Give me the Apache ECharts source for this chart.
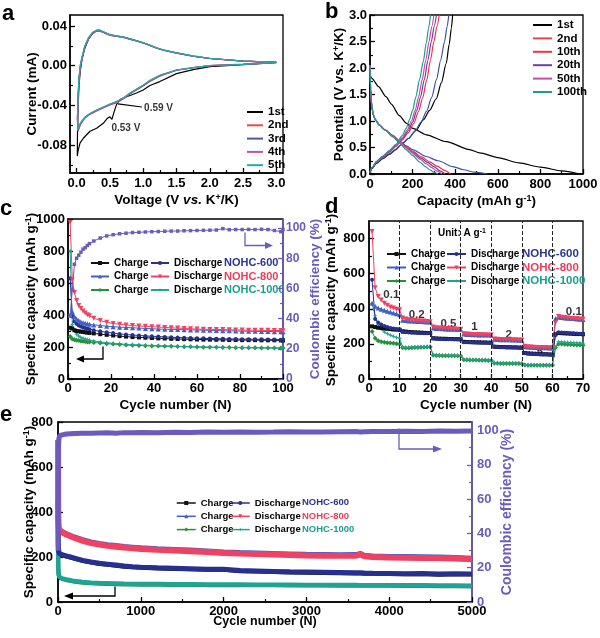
<!DOCTYPE html>
<html><head><meta charset="utf-8">
<script src="https://cdn.jsdelivr.net/npm/echarts@6/dist/echarts.min.js"></script>
<style>html,body{margin:0;padding:0;background:#fff}#c{width:600px;height:638px}</style>
</head><body><div id="c"></div><script>
// ---------- DATA ----------
// (a) CV curves: [voltage, current]
const cvLabels = ['1st','2nd','3rd','4th','5th'];
const cv1st = [[3.0,0.003],[2.75,0.002],[2.5,0.001],[2.25,0.0],[2.0,-0.001],[1.75,-0.004],[1.5,-0.008],[1.25,-0.016],[1.1,-0.02],[1.0,-0.0245],[0.9,-0.0275],[0.8,-0.030],[0.7,-0.0325],[0.65,-0.034],[0.6,-0.039],[0.56,-0.047],[0.53,-0.054],[0.5,-0.0515],[0.46,-0.053],[0.4,-0.058],[0.3,-0.063],[0.2,-0.066],[0.1,-0.073],[0.05,-0.078],[0.02,-0.086],[0.01,-0.091],
[0.012,-0.07],[0.02,-0.045],[0.035,-0.02],[0.055,-0.005],[0.08,0.006],[0.12,0.017],[0.18,0.027],[0.24,0.0325],[0.3,0.0352],[0.34,0.0355],[0.4,0.0338],[0.5,0.031],[0.6,0.0298],[0.7,0.0288],[0.8,0.027],[0.9,0.025],[1.0,0.023],[1.1,0.0205],[1.2,0.0178],[1.3,0.0158],[1.5,0.0128],[1.75,0.0095],[2.0,0.0072],[2.5,0.0045],[3.0,0.0033]];
const cv2nd = [[3.0,0.0033],[2.75,0.0025],[2.5,0.0015],[2.25,0.0008],[2.0,0.0],[1.75,-0.002],[1.5,-0.0045],[1.25,-0.0105],[1.1,-0.016],[1.0,-0.0205],[0.9,-0.0245],[0.8,-0.0285],[0.7,-0.0335],[0.6,-0.0375],[0.5,-0.0395],[0.4,-0.0425],[0.3,-0.0455],[0.2,-0.049],[0.12,-0.053],[0.06,-0.059],[0.02,-0.066],[0.01,-0.068],
[0.012,-0.055],[0.02,-0.035],[0.035,-0.015],[0.055,-0.002],[0.08,0.007],[0.12,0.018],[0.18,0.027],[0.24,0.0325],[0.3,0.0348],[0.34,0.035],[0.4,0.0335],[0.5,0.0305],[0.6,0.0295],[0.7,0.0285],[0.8,0.0265],[0.9,0.0248],[1.0,0.0228],[1.1,0.0202],[1.2,0.0175],[1.3,0.0155],[1.5,0.0125],[1.75,0.0095],[2.0,0.0072],[2.5,0.0046],[3.0,0.0035]];
const cv3rd = [[3.0,0.0032],[2.75,0.0024],[2.5,0.0014],[2.25,0.0007],[2.0,0.0],[1.75,-0.0021],[1.5,-0.0046],[1.25,-0.010],[1.1,-0.0155],[1.0,-0.020],[0.9,-0.024],[0.8,-0.028],[0.7,-0.033],[0.6,-0.0365],[0.5,-0.039],[0.4,-0.042],[0.3,-0.045],[0.2,-0.0485],[0.12,-0.0525],[0.06,-0.058],[0.02,-0.065],[0.01,-0.067],
[0.012,-0.054],[0.02,-0.034],[0.035,-0.014],[0.055,-0.001],[0.08,0.0075],[0.12,0.0185],[0.18,0.0275],[0.24,0.033],[0.3,0.0352],[0.34,0.0354],[0.4,0.0338],[0.5,0.0308],[0.6,0.0297],[0.7,0.0287],[0.8,0.0268],[0.9,0.025],[1.0,0.023],[1.1,0.0205],[1.2,0.0178],[1.3,0.0157],[1.5,0.0127],[1.75,0.0096],[2.0,0.0072],[2.5,0.0046],[3.0,0.0034]];
const cv4th = [[3.0,0.0032],[2.75,0.0024],[2.5,0.0014],[2.25,0.0007],[2.0,0.0],[1.75,-0.0021],[1.5,-0.0045],[1.25,-0.0098],[1.1,-0.015],[1.0,-0.0198],[0.9,-0.0238],[0.8,-0.0278],[0.7,-0.0328],[0.6,-0.0362],[0.5,-0.0388],[0.4,-0.0418],[0.3,-0.0448],[0.2,-0.0483],[0.12,-0.0522],[0.06,-0.0575],[0.02,-0.0645],[0.01,-0.0665],
[0.012,-0.053],[0.02,-0.033],[0.035,-0.013],[0.055,0.0],[0.08,0.008],[0.12,0.019],[0.18,0.028],[0.24,0.0333],[0.3,0.0355],[0.34,0.0357],[0.4,0.034],[0.5,0.031],[0.6,0.0298],[0.7,0.0288],[0.8,0.0269],[0.9,0.0251],[1.0,0.0231],[1.1,0.0206],[1.2,0.0179],[1.3,0.0158],[1.5,0.0128],[1.75,0.0097],[2.0,0.0073],[2.5,0.0047],[3.0,0.0034]];
const cv5th = [[3.0,0.0032],[2.75,0.0024],[2.5,0.0014],[2.25,0.0007],[2.0,0.0],[1.75,-0.002],[1.5,-0.0044],[1.25,-0.0096],[1.1,-0.0148],[1.0,-0.0196],[0.9,-0.0236],[0.8,-0.0276],[0.7,-0.0326],[0.6,-0.036],[0.5,-0.0386],[0.4,-0.0416],[0.3,-0.0446],[0.2,-0.0481],[0.12,-0.052],[0.06,-0.0572],[0.02,-0.064],[0.01,-0.066],
[0.012,-0.052],[0.02,-0.032],[0.035,-0.012],[0.055,0.001],[0.08,0.0085],[0.12,0.0195],[0.18,0.0285],[0.24,0.0337],[0.3,0.0358],[0.34,0.036],[0.4,0.0342],[0.5,0.0312],[0.6,0.03],[0.7,0.029],[0.8,0.027],[0.9,0.0252],[1.0,0.0232],[1.1,0.0207],[1.2,0.018],[1.3,0.0159],[1.5,0.0129],[1.75,0.0098],[2.0,0.0073],[2.5,0.0047],[3.0,0.0034]];

// (b) GCD curves: [capacity, potential]
const gcdLabels = ['1st','2nd','10th','20th','50th','100th'];
const dis1st = [[0,1.88],[10,1.8],[40,1.65],[75,1.46],[100,1.32],[138,1.1],[170,0.96],[201,0.86],[264,0.74],[358,0.61],[468,0.46],[515,0.4],[600,0.31],[700,0.21],[800,0.13],[900,0.06],[985,0]];
const chg1st = [[0,0.03],[10,0.1],[30,0.2],[60,0.29],[90,0.37],[122,0.46],[145,0.55],[180,0.67],[217,0.83],[250,1.02],[280,1.2],[311,1.42],[335,1.72],[358,2.09],[372,2.45],[382,2.75],[388,3.0]];
const dis2nd = [[0,2.05],[3,1.6],[8,1.3],[15,1.12],[25,1.03],[44,0.93],[70,0.84],[107,0.73],[140,0.62],[170,0.53],[200,0.46],[264,0.33],[320,0.25],[389,0.14],[440,0.08],[490,0.035],[550,0]];
const chg2nd = [[0,0.03],[10,0.11],[30,0.21],[60,0.3],[90,0.38],[122,0.47],[150,0.56],[180,0.67],[210,0.8],[240,0.98],[265,1.18],[290,1.45],[312,1.78],[332,2.15],[350,2.5],[362,2.78],[370,3.0]];
const dis10 = [[0,2.05],[3,1.6],[8,1.3],[15,1.12],[25,1.02],[44,0.92],[70,0.83],[107,0.72],[140,0.61],[170,0.52],[200,0.43],[240,0.33],[280,0.23],[315,0.15],[350,0.07],[378,0]];
const chg10 = [[0,0.03],[10,0.12],[30,0.22],[60,0.32],[90,0.41],[122,0.52],[150,0.64],[180,0.78],[205,0.95],[228,1.18],[247,1.43],[266,1.77],[284,2.15],[300,2.5],[314,2.78],[325,3.0]];
const dis20 = [[0,2.05],[3,1.6],[8,1.3],[15,1.12],[25,1.02],[44,0.92],[70,0.83],[107,0.71],[140,0.6],[170,0.5],[200,0.41],[240,0.3],[270,0.22],[300,0.14],[328,0.06],[352,0]];
const chg20 = [[0,0.03],[10,0.12],[30,0.23],[60,0.33],[90,0.42],[122,0.53],[150,0.66],[180,0.82],[200,0.98],[220,1.2],[237,1.45],[255,1.78],[272,2.15],[288,2.5],[301,2.78],[312,3.0]];
const dis50 = [[0,2.05],[3,1.6],[8,1.3],[15,1.12],[25,1.02],[44,0.92],[70,0.83],[107,0.71],[140,0.6],[170,0.49],[200,0.39],[235,0.28],[265,0.19],[290,0.12],[315,0.055],[338,0]];
const chg50 = [[0,0.03],[10,0.12],[30,0.23],[60,0.33],[90,0.43],[122,0.54],[150,0.68],[175,0.83],[195,1.0],[212,1.2],[228,1.45],[245,1.78],[262,2.15],[277,2.5],[290,2.78],[300,3.0]];
const dis100 = [[0,2.05],[3,1.6],[8,1.3],[15,1.12],[25,1.02],[44,0.92],[70,0.83],[107,0.7],[140,0.58],[169,0.46],[200,0.35],[232,0.23],[260,0.14],[280,0.08],[300,0.035],[318,0]];
const chg100 = [[0,0.03],[10,0.12],[30,0.24],[60,0.34],[90,0.44],[122,0.56],[150,0.72],[170,0.86],[185,1.02],[200,1.2],[215,1.45],[232,1.77],[250,2.12],[264,2.47],[275,2.75],[284,3.0]];

// (c) cycling at low rate
const cycC = [1,2,3,4,5,6,7,8,9,10,12,15,18,21,24,27,30,33,36,39,42,45,48,51,54,57,60,63,66,69,72,75,78,81,84,87,90,93,96,99,100];
const c800dis = [980,620,540,490,460,440,425,412,402,395,380,365,354,347,342,338,334,331,329,327,325,322,320,318,316,314,312,311,310,310,309,308,307,306,305,305,304,304,303,303,302];
const c800chg = [400,420,390,375,365,358,352,348,345,342,338,334,330,327,324,322,320,318,316,314,312,311,310,309,308,307,306,305,304,303,302,301,300,299,299,298,297,297,296,296,295];
const c600dis = [630,390,360,345,335,328,322,318,314,311,305,298,292,287,282,278,275,272,269,267,265,263,261,259,258,256,255,254,253,252,251,250,250,249,249,248,248,247,247,246,246];
const c600chg = [320,315,305,300,298,296,294,292,290,288,285,280,276,272,268,265,262,260,258,256,254,253,251,250,249,248,247,246,246,245,245,244,244,243,243,243,242,242,242,241,241];
const c1000dis = [800,340,300,280,268,260,255,250,246,243,238,232,227,223,220,217,215,213,211,210,208,207,206,204,203,202,201,200,199,199,198,198,197,197,196,196,195,195,194,194,194];
const c1000chg = [265,250,245,242,240,238,236,234,232,231,228,225,221,218,215,213,211,210,208,207,206,205,204,203,202,201,200,199,198,198,197,197,196,196,195,195,194,194,193,193,193];
const cCE = [42,59,76,80,82,84,86,87,88.5,89.7,91.4,93.4,94.8,95.6,96.2,96.6,97,97.2,97.4,97.6,97.7,97.9,98,98,98.2,98.3,98.4,98.5,98.6,98.7,99.6,98.9,99,99,99.1,99,99.2,99,98.4,97.6,99];

// (d) rate performance, cycles 1..70
const cycD = Array.from({length:70}, (_, i) => i + 1);
const d800dis = [840,520,470,450,432,420,410,404,398,394, 348,342,338,336,334,332,331,330,328,326, 296,292,290,289,288,287,286,285,284,283, 258,256,255,254,253,253,252,252,251,250, 228,226,225,225,224,224,223,223,222,222, 186,183,182,181,180,180,179,179,178,178, 320,356,352,350,348,346,345,344,342,340];
const d800chg = [432,415,405,398,392,386,381,376,371,366, 335,333,331,330,329,328,327,326,325,324, 290,288,287,286,285,284,284,283,282,282, 256,254,253,252,252,251,251,250,250,249, 226,225,224,224,223,223,222,222,221,221, 184,182,181,180,179,179,178,178,177,177, 345,352,350,348,346,345,344,342,341,339];
const d600dis = [565,342,322,310,302,296,291,288,285,283, 268,266,265,264,263,262,262,261,260,260, 230,229,228,228,227,227,226,226,225,225, 210,209,209,208,208,207,207,206,206,205, 183,182,181,181,180,180,179,179,178,178, 146,144,143,142,141,140,139,139,138,137, 250,266,265,264,262,261,260,259,258,257];
const d600chg = [300,296,292,290,288,286,284,282,281,280, 272,270,268,267,266,265,264,263,262,262, 232,231,230,229,229,228,228,227,227,226, 212,211,210,210,209,209,208,208,207,207, 184,183,182,182,181,181,180,180,179,179, 148,146,145,144,143,142,141,141,140,139, 255,262,261,260,259,258,257,256,256,255];
const d1000dis = [430,360,310,285,268,258,250,243,237,232, 182,180,180,181,182,183,184,184,185,185, 137,136,135,135,135,134,134,134,133,133, 111,110,110,110,109,109,109,108,108,108, 92,91,91,90,90,90,90,89,89,89, 81,80,80,80,79,79,79,80,80,81, 180,212,211,210,209,208,207,206,205,204];
const d1000chg = [270,232,218,212,209,207,205,203,201,199, 178,177,177,178,179,180,181,181,182,182, 135,134,134,133,133,133,132,132,132,131, 109,109,108,108,108,107,107,107,106,106, 90,90,89,89,89,88,88,88,88,87, 80,79,79,79,78,78,78,79,79,79, 178,200,199,198,197,196,195,194,193,192];
const rateLabels = ['0.1','0.2','0.5','1','2','5','0.1'];

// (e) long cycling
const cycE = [1,2,3,5,10,20,50,100,150,200,300,400,500,600,700,800,900,1000,1200,1400,1600,1800,2000,2200,2400,2600,2800,3000,3200,3400,3600,3650,3700,3800,4000,4200,4400,4600,4800,5000];
const e800dis = [720,540,420,360,330,318,310,300,292,285,272,262,255,250,246,242,239,236,232,229,226,222,218,215,213,211,209,207,206,205,206,212,203,200,198,197,196,195,193,190];
const e800chg = [330,335,335,330,328,324,316,306,298,291,279,269,262,257,253,249,246,243,239,236,233,229,225,222,220,218,216,214,213,212,213,218,210,207,205,204,203,202,200,197];
const e600dis = [450,380,300,250,225,215,210,205,200,195,185,178,172,168,164,160,157,155,152,150,148,146,146,140,138,136,134,133,132,131,130,130,129,128,127,126,127,124,126,125];
const e600chg = [260,255,240,228,218,212,207,202,197,192,182,175,169,165,161,157,154,152,149,147,145,143,143,137,135,133,131,130,129,128,127,127,126,125,124,123,124,121,123,122];
const e1000dis = [520,300,180,140,120,110,105,100,97,93,89,86,84,83,82,81,80.5,80,79.5,79,78.5,78,78,77.5,77,77,76.5,76,76,75.5,75.5,75,75,75,75,74,74,73,73,72];
const e1000chg = [230,200,150,125,115,107,102,97,94,90,86,83,81,80,79,78,77.5,77,76.5,76,75.5,75,75,74.5,74,74,73.5,73,73,72.5,72.5,72,72,72,72,71,71,70,70,69];
const eCE = [30,60,80,90,95,97,97.5,98,98.2,98.3,98.5,98.4,98.6,98.7,98.5,98.8,98.7,98.9,98.8,99,98.9,99.1,99,99.2,99,99.1,99.3,99.2,99.1,99.3,99.4,99.2,99.3,99.5,99.4,99.6,99.5,99.7,99.6,99.7];

// ---------- STYLE ----------
const F = '"Liberation Sans", Arial, Helvetica, sans-serif';
const PURPLE = '#6c5bbd';
const COL = {k:'#111111', navy:'#27308f', blue:'#4160c4', red:'#ef4263', green:'#27903c', teal:'#1fa396'};
const cvColors = ['#000000','#e8474f','#4a5aa8','#b15aa5','#22aaa5'];
const gcdColors = ['#000000','#3f4fa3','#ee3344','#6f3fa0','#c74aa8','#1f9a8c'];

function nameStyle(color, fs) {
  return {fontFamily:F, fontWeight:'bold', fontSize:fs, color,
    rich:{sup:{fontFamily:F, fontWeight:'bold', fontSize:Math.round(fs*0.65), color, verticalAlign:'top'},
          it:{fontFamily:F, fontWeight:'bold', fontStyle:'italic', fontSize:fs, color}}};
}
function axes(gi, min, max, majors, minors, o) {
  const color = o.color || '#000';
  const main = {
    type:'value', gridIndex:gi, min, max, position:o.position,
    axisLine:{show:true, onZero:false, lineStyle:{color, width:1.5}},
    axisTick:{show:true, inside:true, length:5, customValues:majors, lineStyle:{color, width:1.3}},
    axisLabel:{show:true, customValues:majors, formatter:o.fmt || (v => String(v)), color, fontFamily:F, fontWeight:'bold', fontSize:o.fs || 13, margin:o.margin == null ? 4 : o.margin},
    splitLine:{show:false},
    name:o.name, nameLocation:'middle', nameGap:o.gap, nameRotate:o.rot, nameMoveOverlap:false,
    nameTextStyle:nameStyle(color, o.nfs || 13.5)
  };
  const minor = {
    type:'value', gridIndex:gi, min, max, position:o.position,
    axisLine:{show:false, onZero:false},
    axisTick:{show:true, inside:true, length:3, customValues:minors, lineStyle:{color, width:1.2}},
    axisLabel:{show:false}, splitLine:{show:false}
  };
  return [main, minor];
}
const f1 = v => v.toFixed(1), f2 = v => v.toFixed(2);

const xAxis = [
  ...axes(0, -0.1, 3.1, [0,0.5,1,1.5,2,2.5,3], [0.25,0.75,1.25,1.75,2.25,2.75], {position:'bottom', fmt:f1, name:'Voltage (V {it|vs.} K{sup|+}/K)', gap:20}),
  ...axes(1, 0, 1000, [0,200,400,600,800,1000], [100,300,500,700,900], {position:'bottom', name:'Capacity (mAh g{sup|-1})', gap:20}),
  ...axes(2, 0, 100, [0,20,40,60,80,100], [10,30,50,70,90], {position:'bottom', name:'Cycle number (N)', gap:19, margin:3}),
  ...axes(3, 0, 70, [0,10,20,30,40,50,60,70], [5,15,25,35,45,55,65], {position:'bottom', name:'Cycle number (N)', gap:19, margin:3}),
  ...axes(4, 0, 5000, [0,1000,2000,3000,4000,5000], [500,1500,2500,3500,4500], {position:'bottom', name:'Cycle number (N)', gap:13, margin:3, nfs:12.5})
];
const yAxis = [
  ...axes(0, -0.108, 0.051, [-0.08,-0.04,0,0.04], [-0.1,-0.06,-0.02,0.02], {position:'left', fmt:f2, name:'Current (mA)', gap:31, margin:3}),
  ...axes(1, 0, 3, [0,0.5,1,1.5,2,2.5,3], [0.25,0.75,1.25,1.75,2.25,2.75], {position:'left', fmt:f1, name:'Potential (V vs. K{sup|+}/K)', gap:24, margin:3}),
  ...axes(2, 0, 1000, [0,200,400,600,800,1000], [100,300,500,700,900], {position:'left', name:'Specific capacity (mAh g{sup|-1})', gap:30, margin:3}),
  ...axes(2, 0, 106, [0,20,40,60,80,100], [10,30,50,70,90], {position:'right', color:PURPLE, name:'Coulombic efficiency (%)', gap:25, rot:90, margin:3, fs:12, nfs:13.5}),
  ...axes(3, 0, 900, [0,200,400,600,800], [100,300,500,700], {position:'left', name:'Specific capacity (mAh g{sup|-1})', gap:31, margin:4}),
  ...axes(4, 0, 800, [0,200,400,600,800], [100,300,500,700], {position:'left', name:'Specific capacity (mAh g{sup|-1})', gap:22, margin:5}),
  ...axes(4, 0, 105, [0,20,40,60,80,100], [10,30,50,70,90], {position:'right', color:PURPLE, name:'Coulombic efficiency (%)', gap:28, rot:90, margin:5, nfs:14})
];

function ls(name, xi, yi, pts, color, symbol, size, lw, extra) {
  return Object.assign({
    type:'line', name, xAxisIndex:xi, yAxisIndex:yi, data:pts,
    symbol, symbolSize:size, showSymbol:symbol !== 'none',
    lineStyle:{color, width:lw}, itemStyle:{color}, emphasis:{disabled:true}, animation:false
  }, extra || {});
}
const zip = (xs, ys) => xs.map((x, i) => [x, ys[i]]);
const DOWN = 'path://M0,0L10,0L5,9Z';
const STAR = 'path://M5,0L6.3,3.7L10,5L6.3,6.3L5,10L3.7,6.3L0,5L3.7,3.7Z';

const series = [];
// (a)
[cv1st, cv2nd, cv3rd, cv4th, cv5th].forEach((d, i) => series.push(ls(cvLabels[i], 0, 0, d, cvColors[i], 'none', 0, 1.2)));
series.push({type:'scatter', xAxisIndex:0, yAxisIndex:0, symbolSize:1, itemStyle:{color:'rgba(0,0,0,0)'}, silent:true, animation:false,
  data:[{value:[1.23,-0.0426], name:'0.59 V'}, {value:[0.74,-0.0627], name:'0.53 V'}],
  label:{show:true, position:'inside', formatter:p => p.name, fontFamily:F, fontWeight:'bold', fontSize:10, color:'#000'},
  markLine:{silent:true, symbol:['none','arrow'], symbolSize:[0,7], label:{show:false}, lineStyle:{color:'#000', width:1.2, type:'solid'},
    data:[[{coord:[0.62,-0.0385]}, {coord:[0.98,-0.0416]}]]}});
// (b)
const gcdDis = [dis1st, dis2nd, dis10, dis20, dis50, dis100];
const gcdChg = [chg1st, chg2nd, chg10, chg20, chg50, chg100];
gcdLabels.forEach((n, i) => {
  series.push(ls(n, 2, 2, gcdDis[i], gcdColors[i], 'none', 0, 1.2, {smooth:0.25, smoothMonotone:'x'}));
  series.push(ls(n, 2, 2, gcdChg[i], gcdColors[i], 'none', 0, 1.2, {smooth:0.25, smoothMonotone:'x'}));
});
// (c)
series.push(ls('Charge·1000c', 4, 4, zip(cycC, c1000chg), COL.green, 'diamond', 5, 1));
series.push(ls('Discharge·1000c', 4, 4, zip(cycC, c1000dis), COL.teal, STAR, 5, 1));
series.push(ls('Charge·600c', 4, 4, zip(cycC, c600chg), COL.k, 'rect', 4, 1));
series.push(ls('Discharge·600c', 4, 4, zip(cycC, c600dis), COL.navy, 'circle', 4, 1));
series.push(ls('Charge·800c', 4, 4, zip(cycC, c800chg), COL.blue, 'triangle', 5, 1));
series.push(ls('Discharge·800c', 4, 4, zip(cycC, c800dis), COL.red, DOWN, 5, 1));
series.push(ls('CEc', 4, 6, zip(cycC, cCE), PURPLE, 'rect', 3.5, 1));
// (d)
series.push(ls('Charge·1000d', 6, 8, zip(cycD, d1000chg), COL.green, 'diamond', 5, 1, {
  markLine:{silent:true, symbol:'none', label:{show:false}, lineStyle:{type:'dashed', color:'#222', width:1},
    data:[10,20,30,40,50,60].map(v => ({xAxis:v}))}}));
series.push(ls('Discharge·1000d', 6, 8, zip(cycD, d1000dis), COL.teal, STAR, 5, 1));
series.push(ls('Charge·600d', 6, 8, zip(cycD, d600chg), COL.k, 'rect', 4, 1));
series.push(ls('Discharge·600d', 6, 8, zip(cycD, d600dis), COL.navy, 'circle', 4, 1));
series.push(ls('Charge·800d', 6, 8, zip(cycD, d800chg), COL.blue, 'triangle', 5, 1));
series.push(ls('Discharge·800d', 6, 8, zip(cycD, d800dis), COL.red, DOWN, 5, 1));
series.push({type:'scatter', xAxisIndex:6, yAxisIndex:8, symbolSize:1, itemStyle:{color:'rgba(0,0,0,0)'}, silent:true, animation:false,
  data:[[7.3,481],[15.6,366],[26,315],[34.5,296],[45.7,252],[55.9,156],[67,385]].map((v, i) => ({value:v, name:rateLabels[i]})),
  label:{show:true, position:'inside', formatter:p => p.name, fontFamily:F, fontWeight:'bold', fontSize:11.5, color:'#000'}});
// (e)
const eo = {showSymbol:false};
series.push(ls('Charge·1000e', 8, 10, zip(cycE, e1000chg), COL.green, 'diamond', 5, 4, eo));
series.push(ls('Discharge·1000e', 8, 10, zip(cycE, e1000dis), COL.teal, STAR, 5, 4.5, eo));
series.push(ls('Charge·600e', 8, 10, zip(cycE, e600chg), COL.k, 'rect', 4, 4, eo));
series.push(ls('Discharge·600e', 8, 10, zip(cycE, e600dis), COL.navy, 'circle', 4, 5, eo));
series.push(ls('Charge·800e', 8, 10, zip(cycE, e800chg), COL.blue, 'triangle', 5, 4, eo));
series.push(ls('Discharge·800e', 8, 10, zip(cycE, e800dis), COL.red, DOWN, 5, 6, eo));
series.push(ls('CEe', 8, 12, zip(cycE, eCE), PURPLE, 'rect', 4, 5, eo));

// ---------- LEGENDS ----------
const legTxt = n => n.split('·')[0];
function leg(data, left, top, fs, gap, iw, extra) {
  return Object.assign({data, orient:'vertical', left, top, padding:0, itemGap:gap, itemWidth:iw, itemHeight:5,
    selectedMode:false, formatter:legTxt,
    textStyle:{fontFamily:F, fontWeight:'bold', fontSize:fs, lineHeight:12, color:'#000'}}, extra || {});
}
const lineIcon = {icon:'rect', itemHeight:2};
const legend = [
  leg(cvLabels, 247, 106, 11.5, 1.3, 16, lineIcon),
  leg(gcdLabels, 533, 19, 11.5, 1.4, 19, lineIcon),
  leg(['Charge·600c','Charge·800c','Charge·1000c'], 90, 257, 10, 1.5, 18),
  leg(['Discharge·600c','Discharge·800c','Discharge·1000c'], 150, 257, 10, 1.5, 18),
  leg(['Charge·600d','Charge·800d','Charge·1000d'], 386, 248, 10, 1.5, 19),
  leg(['Discharge·600d','Discharge·800d','Discharge·1000d'], 446, 248, 10, 1.5, 19),
  leg(['Charge·600e','Charge·800e','Charge·1000e'], 176, 497, 9.5, 1.3, 19, {lineStyle:{width:1.5}}),
  leg(['Discharge·600e','Discharge·800e','Discharge·1000e'], 230, 497, 9.5, 1.3, 19, {lineStyle:{width:1.5}})
];

// ---------- GRAPHIC (letters, labels, arrows) ----------
const g = [];
function txt(x, y, text, size, color, va, rich) {
  g.push({type:'text', x, y, silent:true, style:{text, font:'bold ' + size + 'px ' + F, fill:color, align:'left', verticalAlign:va || 'middle', rich}});
}
txt(2, 24.5, 'a', 22, '#000', 'bottom');
txt(325, 22.5, 'b', 22, '#000', 'bottom');
txt(0, 219.5, 'c', 22, '#000', 'bottom');
txt(325, 217.5, 'd', 22, '#000', 'bottom');
txt(0, 426, 'e', 22, '#000', 'bottom');
const nohc = ['NOHC-600','NOHC-800','NOHC-1000'];
const nohcCol = ['#2b3590','#ee3d5c','#1a9e8f'];
[263,277,290].forEach((y, i) => txt(224, y, nohc[i], 11, nohcCol[i]));
[254,268,281].forEach((y, i) => txt(522, y, nohc[i], 11.5, nohcCol[i]));
[502.7,516,529.3].forEach((y, i) => txt(302, y, nohc[i], 9.5, nohcCol[i]));
txt(438, 233, 'Unit: A g{s|-1}', 10, '#000', 'middle', {s:{fontFamily:F, fontWeight:'bold', fontSize:7, verticalAlign:'top', fill:'#000'}});
function arrow(pts, head, color) {
  g.push({type:'polyline', silent:true, shape:{points:pts}, style:{stroke:color, lineWidth:1.3, fill:null}});
  g.push({type:'polygon', silent:true, shape:{points:head}, style:{fill:color}});
}
arrow([[103,346.5],[103,359],[83,359]], [[76,359],[84,355.5],[84,362.5]], '#000');
arrow([[245,232.5],[245,245.5],[266,245.5]], [[273,245.5],[265,242],[265,249]], PURPLE);
arrow([[115,586.5],[115,596],[72,596]], [[64,596],[73,592.5],[73,599.5]], '#000');
arrow([[399,428.5],[399,449],[434,449]], [[442,449],[433,445.5],[433,452.5]], PURPLE);

const grid = [
  {left:70, top:15, width:213, height:158},
  {left:370, top:15, width:213, height:159},
  {left:68, top:219, width:215, height:160},
  {left:369, top:221, width:214, height:158},
  {left:58, top:422, width:414, height:180}
].map(o => Object.assign(o, {show:true, borderColor:'#000', borderWidth:1.3, backgroundColor:'rgba(0,0,0,0)', containLabel:false, outerBoundsMode:'none'}));

const chart = echarts.init(document.getElementById('c'), null, {renderer:'canvas'});
chart.setOption({
  animation:false, backgroundColor:'#fff', textStyle:{fontFamily:F},
  grid, xAxis, yAxis, series, legend, graphic:g
});
</script></body></html>
